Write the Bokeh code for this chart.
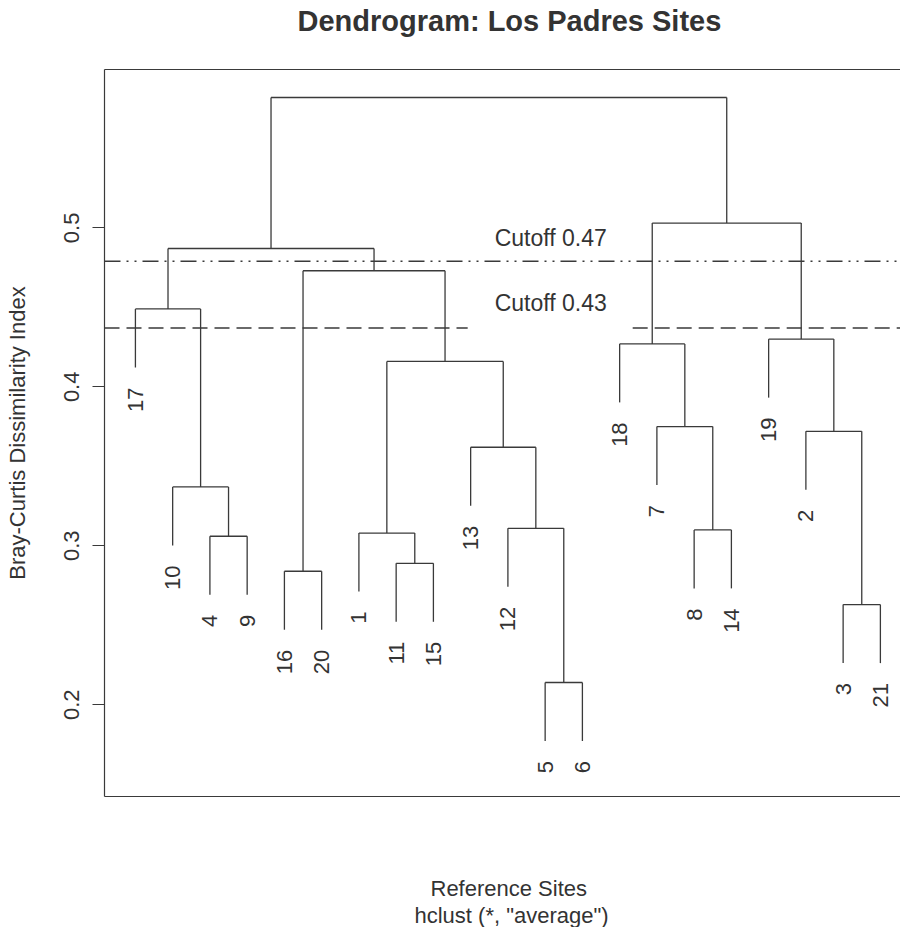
import numpy as np
from bokeh.plotting import figure
from bokeh.models import Range1d, LinearAxis, FixedTicker, Title, Span
from bokeh.embed import file_html
from bokeh.resources import INLINE
from bokeh.core.properties import value

# ---------------- data ----------------
leaf_order = [17, 10, 4, 9, 16, 20, 1, 11, 15, 13, 12, 5, 6, 18, 7, 8, 14, 19, 2, 3, 21]
# hclust-style merge table: negative = leaf (site number), positive = earlier merge (1-based)
merge_left = [-5, -3, -16, -11, -4, -1, -8, -12, -10, -13, -2, -7, 6, -18, -19, -17, 3, 16, 14, 18]
merge_right = [-6, -21, -20, -15, -9, 4, -14, 1, 5, 8, 2, 7, 10, 12, 11, 9, 13, 17, 15, 19]
merge_height = [0.214, 0.263, 0.284, 0.289, 0.306, 0.308, 0.310, 0.311, 0.337, 0.362,
                0.372, 0.375, 0.416, 0.427, 0.430, 0.449, 0.473, 0.487, 0.503, 0.582]

cutoff_names = ["Cutoff 0.47", "Cutoff 0.43"]
cutoff_levels = [0.479, 0.437]
cutoff_label_x = [12.15, 12.15]
cutoff_label_y = [0.4936, 0.4528]
cutoff_gap = [9.92, 14.35]   # the 0.43 line is interrupted between these x values

y_ticks = [0.2, 0.3, 0.4, 0.5]
x_lim = (0.17, 21.54)
y_lim = (0.1423, 0.5996)

title_text = "Dendrogram: Los Padres Sites"
x_label = "Reference Sites"
sub_label = 'hclust (*, "average")'
y_label = "Bray-Curtis Dissimilarity Index"

# ---------------- geometry from merge table ----------------
LINE = "#3a3a3a"
TEXT = "#333333"
FONT = "Liberation Sans"

leaf_pos = {lab: i + 1 for i, lab in enumerate(leaf_order)}
hang = 0.1 * (max(merge_height) - min(merge_height))
mx = []
x0s, y0s, x1s, y1s = [], [], [], []
leaf_x, leaf_y, leaf_txt = [], [], []
for k in range(len(merge_height)):
    h = merge_height[k]
    xs = []
    for child in (merge_left[k], merge_right[k]):
        if child < 0:
            cx = leaf_pos[-child]
            cy = h - hang
            leaf_x.append(cx)
            leaf_y.append(cy)
            leaf_txt.append(str(-child))
        else:
            cx = mx[child - 1]
            cy = merge_height[child - 1]
        xs.append(cx)
        x0s.append(cx); y0s.append(cy); x1s.append(cx); y1s.append(h)
    x0s.append(xs[0]); y0s.append(h); x1s.append(xs[1]); y1s.append(h)
    mx.append((xs[0] + xs[1]) / 2)

# ---------------- figure ----------------
p = figure(width=900, height=927, output_backend="svg", toolbar_location=None,
           x_range=Range1d(*x_lim), y_range=Range1d(*y_lim),
           x_axis_type=None, y_axis_type=None, title=None,
           min_border_left=104, min_border_right=0, min_border_top=69, min_border_bottom=130,
           background_fill_color="white", border_fill_color="white")
p.outline_line_color = None
p.xgrid.visible = False
p.ygrid.visible = False

yax = LinearAxis(ticker=FixedTicker(ticks=y_ticks))
yax.axis_label = y_label
yax.axis_label_text_font = FONT
yax.axis_label_text_font_size = "22px"
yax.axis_label_text_font_style = "normal"
yax.axis_label_text_color = TEXT
yax.axis_label_standoff = 32
yax.major_label_text_font = FONT
yax.major_label_text_font_size = "22px"
yax.major_label_text_color = TEXT
yax.major_label_orientation = "vertical"
yax.major_label_standoff = 13
yax.major_tick_out = 12
yax.major_tick_in = 0
yax.major_tick_line_color = LINE
yax.major_tick_line_width = 1.2
yax.minor_tick_line_color = None
yax.axis_line_color = LINE
yax.axis_line_width = 1.2
p.add_layout(yax, "left")

for side in ("above", "below"):
    ax = LinearAxis(ticker=FixedTicker(ticks=[]))
    ax.major_tick_line_color = None
    ax.minor_tick_line_color = None
    ax.major_label_text_font_size = "0px"
    ax.axis_line_color = LINE
    ax.axis_line_width = 1.2
    ax.major_tick_out = 0
    ax.major_label_standoff = 0
    p.add_layout(ax, side)

# top: spacer then main title (listed from the frame outward)
p.add_layout(Title(text=" ", text_font_size="1px", standoff=30), "above")
p.add_layout(Title(text=title_text, align="left", offset=193, text_font=FONT,
                   text_font_size="29px", text_font_style="bold", text_color=TEXT,
                   standoff=0), "above")

# bottom: spacer, x label, sub label
p.add_layout(Title(text=" ", text_font_size="1px", standoff=74), "below")
p.add_layout(Title(text=x_label, align="left", offset=326, text_font=FONT,
                   text_font_size="22px", text_font_style="normal", text_color=TEXT,
                   standoff=0), "below")
p.add_layout(Title(text=sub_label, align="left", offset=310, text_font=FONT,
                   text_font_size="22px", text_font_style="normal", text_color=TEXT,
                   standoff=0), "below")

# dendrogram
p.segment(x0=x0s, y0=y0s, x1=x1s, y1=y1s, line_color=LINE, line_width=1.3)

# leaf labels
p.text(x=leaf_x, y=leaf_y, text=leaf_txt, angle=np.pi / 2, text_align="right",
       text_baseline="middle", y_offset=20, text_font=value(FONT),
       text_font_size=value("22px"), text_color=TEXT)

# cutoff lines
p.add_layout(Span(location=cutoff_levels[0], dimension="width", line_color=LINE,
                  line_width=1.7, line_dash="16 6 2 6 2 6"))
p.segment(x0=[x_lim[0], cutoff_gap[1]], x1=[cutoff_gap[0], x_lim[1] + 1],
          y0=[cutoff_levels[1]] * 2, y1=[cutoff_levels[1]] * 2,
          line_color=LINE, line_width=1.7, line_dash="15 7")
p.text(x=cutoff_label_x, y=cutoff_label_y, text=cutoff_names, text_align="center",
       text_baseline="middle", text_font=value(FONT), text_font_size=value("23px"),
       text_color=TEXT)

open("out.html", "w").write(file_html(p, INLINE))
